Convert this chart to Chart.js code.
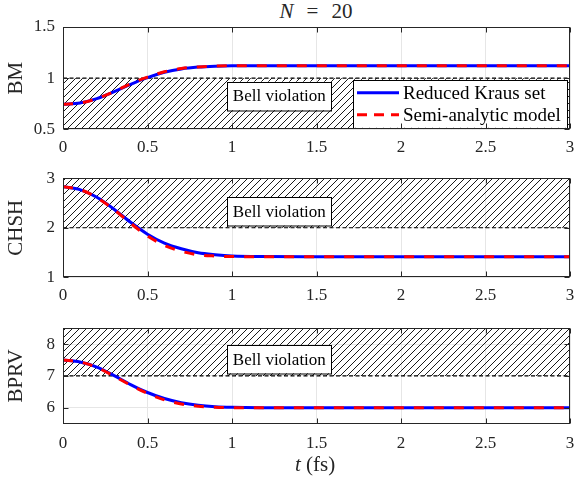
<!DOCTYPE html>
<html>
<head>
<meta charset="utf-8">
<script src="https://cdn.jsdelivr.net/npm/chart.js@4.4.1/dist/chart.umd.min.js"></script>
<style>
  body { margin: 0; background: #fff; width: 576px; height: 482px; position: relative; overflow: hidden; font-family: "Liberation Serif", serif; }
  canvas { position: absolute; left: 0; }
  .lbl { position: absolute; color: #262626; white-space: nowrap; text-align: center; }
</style>
</head>
<body>
<div class="lbl" style="left:0; width:632px; top:-1px; font-size:21px;"><i>N</i><span style="margin:0 13px">=</span>20</div>
<canvas id="bm" width="576" height="160" style="top:0"></canvas>
<canvas id="chsh" width="576" height="150" style="top:160px"></canvas>
<canvas id="bprv" width="576" height="172" style="top:310px"></canvas>
<div class="lbl" style="left:0; width:630px; top:452px; font-size:21px;"><i>t</i>&nbsp;(fs)</div>
<script>
// time axis (fs)
const times = [0, 0.1, 0.2, 0.3, 0.4, 0.5, 0.6, 0.7, 0.8, 0.9, 1.0, 1.2, 1.5, 2.0, 2.5, 3.0];

// BM
const bmKraus = [0.745, 0.758, 0.800, 0.866, 0.940, 1.005, 1.057, 1.090, 1.108, 1.117, 1.121, 1.122, 1.122, 1.122, 1.122, 1.122];
const bmModel = [0.745, 0.757, 0.800, 0.868, 0.945, 1.010, 1.062, 1.094, 1.110, 1.118, 1.121, 1.122, 1.122, 1.122, 1.122, 1.122];
// CHSH
const chshKraus = [2.828, 2.770, 2.615, 2.380, 2.110, 1.870, 1.690, 1.575, 1.495, 1.455, 1.430, 1.418, 1.415, 1.414, 1.414, 1.414];
const chshModel = [2.828, 2.770, 2.610, 2.370, 2.090, 1.835, 1.645, 1.525, 1.455, 1.430, 1.418, 1.414, 1.414, 1.414, 1.414, 1.414];
// BPRV
const bprvKraus = [7.50, 7.44, 7.28, 7.02, 6.73, 6.48, 6.29, 6.16, 6.08, 6.035, 6.015, 6.003, 6.0, 6.0, 6.0, 6.0];
const bprvModel = [7.50, 7.44, 7.27, 7.00, 6.71, 6.45, 6.25, 6.12, 6.05, 6.015, 6.005, 6.0, 6.0, 6.0, 6.0, 6.0];

const xTicks = [0, 0.5, 1, 1.5, 2, 2.5, 3];
const bmTicks = [0.5, 1, 1.5];
const chshTicks = [1, 2, 3];
const bprvTicks = [6, 7, 8];

const serif = "'Liberation Serif', 'Times New Roman', serif";
const axisColor = '#262626';
Chart.defaults.font.family = serif;

function hatch(ctx) {
  const s = 7;
  const c = document.createElement('canvas');
  c.width = s; c.height = s;
  const g = c.getContext('2d');
  g.strokeStyle = '#000';
  g.lineWidth = 0.9;
  g.beginPath();
  g.moveTo(0, s); g.lineTo(s, 0);
  g.moveTo(-1, 1); g.lineTo(1, -1);
  g.moveTo(s - 1, s + 1); g.lineTo(s + 1, s - 1);
  g.stroke();
  return ctx.createPattern(c, 'repeat');
}

const pts = arr => times.map((t, i) => ({ x: t, y: arr[i] }));

// frame, inward ticks, "Bell violation" box and legend
const framePlugin = {
  id: 'frame',
  afterDatasetsDraw(chart, args, opts) {
    const { ctx, chartArea: a, scales: { x, y } } = chart;
    ctx.save();
    const cx = x.getPixelForValue(opts.boxX), cy = y.getPixelForValue(opts.boxY);
    const w = 104, h = 28.5;
    ctx.fillStyle = '#fff';
    ctx.fillRect(cx - w / 2, cy - h / 2, w, h);
    ctx.strokeStyle = '#000';
    ctx.lineWidth = 1;
    ctx.strokeRect(Math.round(cx - w / 2) + 0.5, Math.round(cy - h / 2) + 0.5, w, h);
    ctx.fillStyle = '#000';
    ctx.font = '17px ' + serif;
    ctx.textAlign = 'center';
    ctx.textBaseline = 'middle';
    ctx.fillText('Bell violation', cx, cy + 1);

    if (opts.legend) {
      const lr = a.right - 3, lb = a.bottom - 1.5, lw = 214, lh = 48;
      const lx = lr - lw, ly = lb - lh;
      ctx.fillStyle = '#fff';
      ctx.fillRect(lx, ly, lw, lh);
      ctx.strokeStyle = '#000';
      ctx.strokeRect(Math.round(lx) + 0.5, Math.round(ly) + 0.5, lw, lh);
      const ds = chart.data.datasets;
      [ds[1], ds[0]].forEach((d, i) => {
        const ry = ly + 13 + i * 22;
        ctx.beginPath();
        ctx.strokeStyle = d.borderColor;
        ctx.lineWidth = 3;
        ctx.setLineDash(d.borderDash ? [10, 7] : []);
        ctx.moveTo(lx + 4, ry);
        ctx.lineTo(lx + 46, ry);
        ctx.stroke();
        ctx.setLineDash([]);
        ctx.fillStyle = '#000';
        ctx.font = '19px ' + serif;
        ctx.textAlign = 'left';
        ctx.fillText(d.label, lx + 50, ry + 1);
      });
    }

    ctx.strokeStyle = axisColor;
    ctx.lineWidth = 1;
    ctx.setLineDash([]);
    const L = Math.round(a.left) + 0.5, R = Math.round(a.right) - 0.5;
    const T = Math.round(a.top) + 0.5, B = Math.round(a.bottom) - 0.5;
    ctx.strokeRect(L, T, R - L, B - T);
    ctx.beginPath();
    x.ticks.forEach(t => {
      const px = Math.round(x.getPixelForValue(t.value)) + 0.5;
      ctx.moveTo(px, B); ctx.lineTo(px, B - 5);
      ctx.moveTo(px, T); ctx.lineTo(px, T + 5);
    });
    y.ticks.forEach(t => {
      const py = Math.round(y.getPixelForValue(t.value)) + 0.5;
      ctx.moveTo(L, py); ctx.lineTo(L + 5, py);
      ctx.moveTo(R, py); ctx.lineTo(R - 5, py);
    });
    ctx.stroke();
    ctx.restore();
  }
};

function panel(id, c) {
  const ctx = document.getElementById(id).getContext('2d');
  const tickFont = { family: serif, size: 17 };
  return new Chart(ctx, {
    type: 'line',
    data: {
      datasets: [
        { label: 'Semi-analytic model', data: pts(c.model), borderColor: '#ff0000', borderWidth: 3,
          borderDash: [10, 10], pointRadius: 0, fill: false, cubicInterpolationMode: 'monotone' },
        { label: 'Reduced Kraus set', data: pts(c.kraus), borderColor: '#0000ff', borderWidth: 3,
          pointRadius: 0, fill: false, cubicInterpolationMode: 'monotone' },
        { label: 'limit', data: [{ x: 0, y: c.limit }, { x: 3, y: c.limit }], borderColor: '#000',
          borderWidth: 1.2, borderDash: [4, 2.5], pointRadius: 0, fill: c.fill, backgroundColor: hatch(ctx) }
      ]
    },
    options: {
      responsive: false,
      animation: false,
      devicePixelRatio: 1,
      layout: { padding: { top: c.padTop, right: 6, bottom: 0, left: 0 } },
      plugins: {
        legend: { display: false },
        tooltip: { enabled: false },
        frame: { boxX: 1.28, boxY: c.boxY, legend: c.legend }
      },
      scales: {
        x: {
          type: 'linear', min: 0, max: 3,
          afterBuildTicks: s => { s.ticks = xTicks.map(v => ({ value: v })); },
          afterFit: s => { s.height = c.xh; s.paddingLeft = 0; s.paddingRight = 0; },
          grid: { color: '#e6e6e6', drawTicks: false },
          border: { display: false },
          ticks: { color: axisColor, font: tickFont, padding: c.xpad, maxRotation: 0, callback: v => String(v) }
        },
        y: {
          type: 'linear', min: c.min, max: c.max,
          afterBuildTicks: s => { s.ticks = c.ticks.map(v => ({ value: v })); },
          afterFit: s => { s.width = 63; },
          grid: { color: '#e6e6e6', drawTicks: false },
          border: { display: false },
          ticks: { color: axisColor, font: tickFont, padding: 8, callback: v => String(v) },
          title: { display: true, text: c.name, color: axisColor, font: { family: serif, size: 21 }, padding: { top: 4, bottom: 0 } }
        }
      }
    },
    plugins: [framePlugin]
  });
}

panel('bm', { name: 'BM', kraus: bmKraus, model: bmModel, limit: 1, fill: 'start', min: 0.5, max: 1.5,
  ticks: bmTicks, padTop: 27, xh: 30.7, xpad: 8, boxY: 0.826, legend: true });
panel('chsh', { name: 'CHSH', kraus: chshKraus, model: chshModel, limit: 2, fill: 'end', min: 1, max: 3,
  ticks: chshTicks, padTop: 15, xh: 32.7, xpad: 8.5, boxY: 2.33, legend: false });
panel('bprv', { name: 'BPRV', kraus: bprvKraus, model: bprvModel, limit: 7, fill: 'end', min: 5.5, max: 8.5,
  ticks: bprvTicks, padTop: 12.3, xh: 58.3, xpad: 10, boxY: 7.53, legend: false });
</script>
</body>
</html>
